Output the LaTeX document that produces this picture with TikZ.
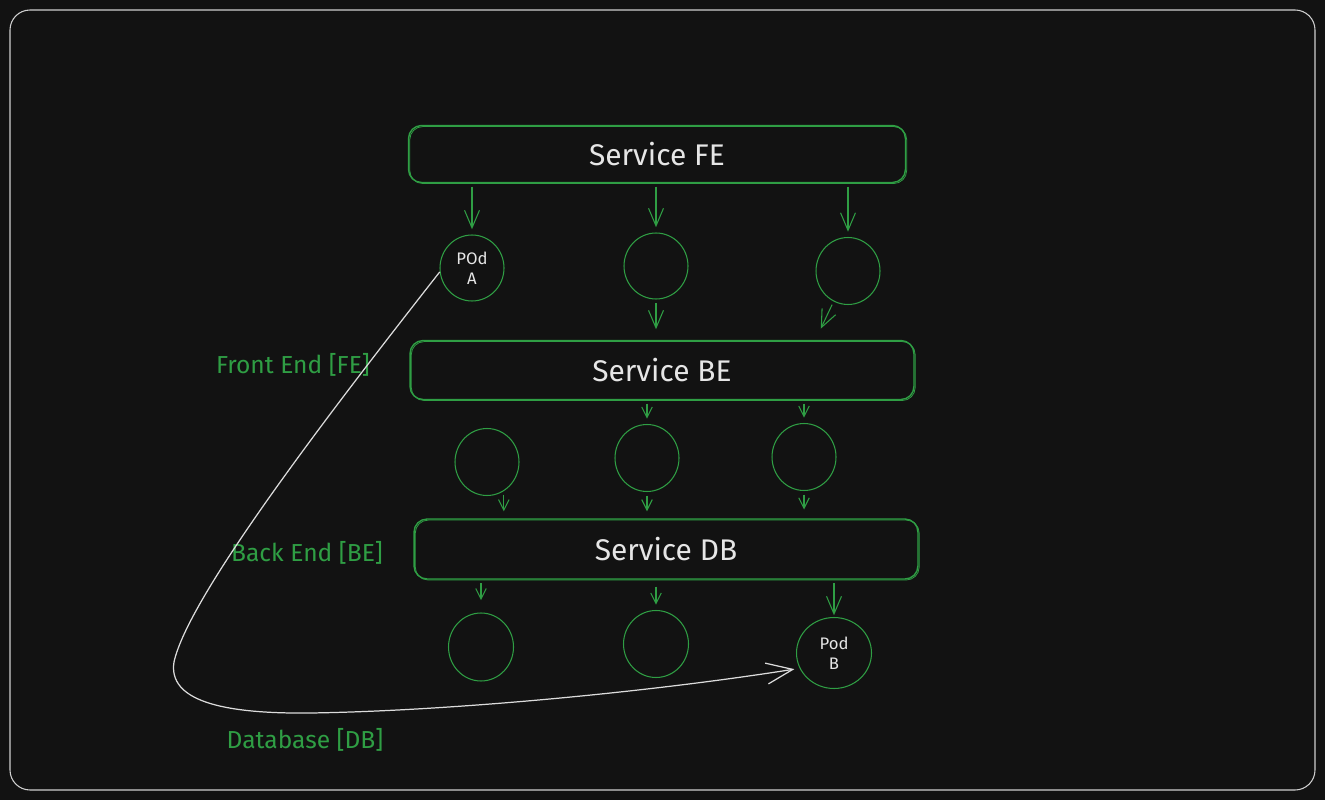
\documentclass[tikz,border=0pt]{standalone}
\usepackage{fontspec}
\setmainfont{Fira Sans}
\usepackage{tikz}
\usetikzlibrary{shapes.geometric,arrows.meta,positioning}
\definecolor{bg}{HTML}{121212}
\definecolor{podgreen}{HTML}{2F9E44}
\definecolor{inkwhite}{HTML}{E6E6E6}
\definecolor{framegray}{HTML}{CFCFCF}
\tikzset{
  svcbox/.style={draw=podgreen, line width=0.8pt, rounded corners=0.26cm, text=inkwhite, font=\fontsize{17}{20}\selectfont,
    preaction={draw=podgreen, line width=0.45pt, transform canvas={xshift=0.7pt, yshift=-0.6pt}}},
  podnode/.style={draw=podgreen, ellipse, line width=0.6pt, minimum width=1.28cm, minimum height=1.32cm, inner sep=0pt, text=inkwhite, font=\fontsize{9.5}{11.5}\selectfont, align=center},
  flow/.style={draw=podgreen, line width=0.6pt, -{Straight Barb[length=6pt,width=6pt]}, shorten <=2pt, shorten >=3pt},
  bigflow/.style={flow, -{Straight Barb[length=10pt,width=8.5pt]}},
  layerlabel/.style={text=podgreen, font=\fontsize{14}{16}\selectfont},
}

\begin{document}
\begin{tikzpicture}[x=0.02cm, y=-0.02cm]
\useasboundingbox (0,0) rectangle (1325,800);
\fill[bg] (0,0) rectangle (1325,800);
\draw[framegray, line width=0.6pt, rounded corners=0.4cm] (10,10) rectangle (1315,790);

% front end
\node (fe_svc) at (657,154) [svcbox, minimum width=9.94cm, minimum height=1.14cm] {Service FE};
\node (fe_pod_a) at (472,268) [podnode] {POd\\A};
\node (fe_pod2) at (656,266) [podnode] {};
\node (fe_pod3) at (848,271) [podnode, minimum height=1.34cm] {};

\draw [bigflow] (fe_svc.south -| fe_pod_a) -- (fe_pod_a);
\draw [bigflow] (fe_svc.south -| fe_pod2) -- (fe_pod2);
\draw [bigflow] (fe_svc.south -| fe_pod3) -- (fe_pod3);

% back end
\node (be_svc) at (662,370) [svcbox, minimum width=10.08cm, minimum height=1.18cm] {Service BE};
\node (be_pod1) at (487,462) [podnode, minimum height=1.34cm] {};
\node (be_pod2) at (647,458) [podnode, minimum height=1.34cm] {};
\node (be_pod3) at (804,457) [podnode, minimum height=1.34cm] {};

\draw [bigflow, shorten >=6pt] (fe_pod2) -- (fe_pod2 |- be_svc.north);
\draw [bigflow, shorten >=7pt] (fe_pod3) -- (be_svc.north -| fe_pod3.west);
\draw [flow] (be_svc.south -| be_pod2) -- (be_pod2);
\draw [flow] (be_svc.south -| be_pod3) -- (be_pod3);

% database
\node (db_svc) at (666,549) [svcbox, minimum width=10.08cm, minimum height=1.2cm] {Service DB};
\node (db_pod1) at (481,647) [podnode, minimum width=1.3cm, minimum height=1.36cm] {};
\node (db_pod2) at (656,644) [podnode, minimum width=1.3cm, minimum height=1.34cm] {};
\node (db_pod_b) at (834,653) [podnode, minimum width=1.5cm, minimum height=1.42cm] {Pod\\B};

\draw [flow, shorten >=4pt] (be_pod1.-60) -- (be_pod1.-60 |- db_svc.north);
\draw [flow, shorten >=4pt] (be_pod2) -- (be_pod2 |- db_svc.north);
\draw [flow, shorten >=5pt] (be_pod3) -- (be_pod3 |- db_svc.north);
\draw [flow, shorten >=7pt] (db_svc.south -| db_pod1) -- (db_pod1);
\draw [flow, shorten <=4pt] (db_svc.south -| db_pod2) -- (db_pod2);
\draw [bigflow, shorten >=1pt] (db_svc.south -| db_pod_b) -- (db_pod_b);

% layer names
\node (fe_label) at (293,365) [layerlabel] {Front End [FE]};
\node (be_label) at (307,553) [layerlabel] {Back End [BE]};
\node (db_label) at (305,740) [layerlabel] {Database [DB]};

% pod A to pod B
\draw [inkwhite!90!gray, line width=0.7pt, -{Straight Barb[length=15pt,width=12pt]}, shorten >=3pt]
  (fe_pod_a.187) .. controls (322,422) and (188,598) .. (174,662)
  .. controls (168,700) and (220,714) .. (310,713)
  .. controls (450,711) and (650,692) .. (db_pod_b.204);

\end{tikzpicture}
\end{document}
